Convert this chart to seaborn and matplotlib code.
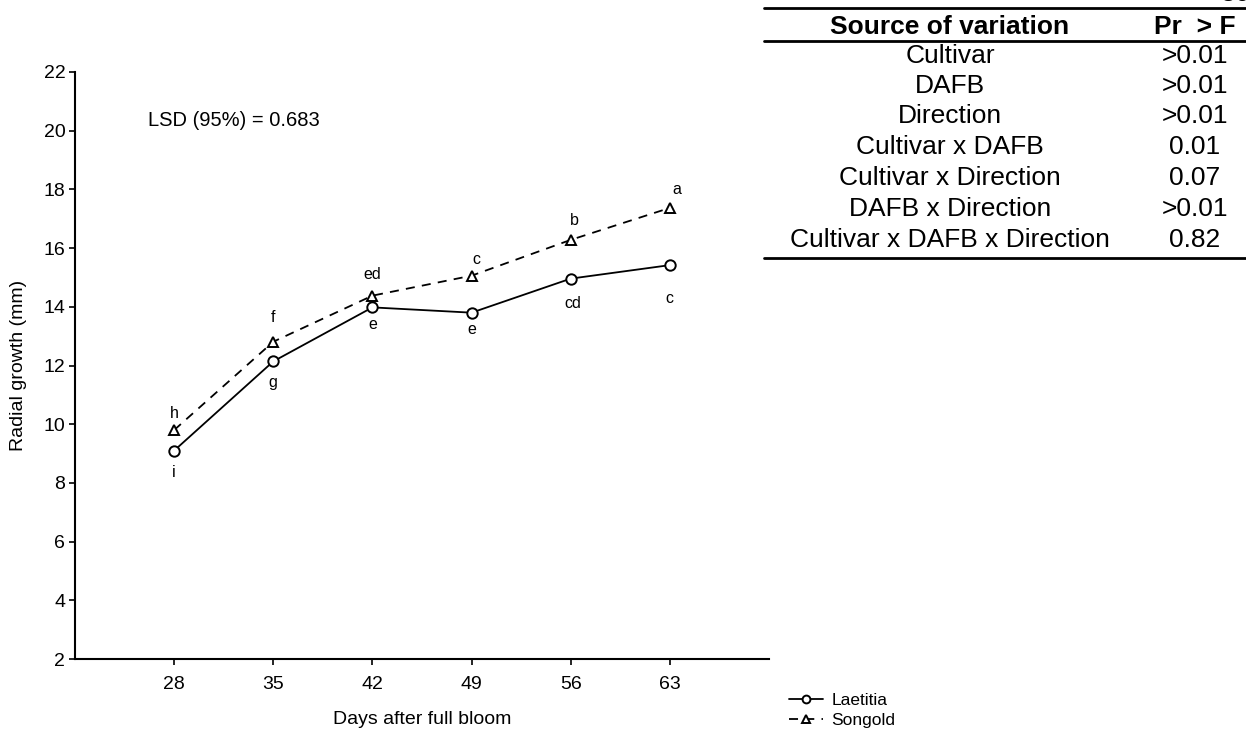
import matplotlib
matplotlib.use("Agg")
import matplotlib.pyplot as plt
import seaborn as sns
import pandas as pd
from matplotlib.lines import Line2D

# Radial fruit growth per cultivar, days after full bloom
days = [28, 35, 42, 49, 56, 63]
laetitia = [9.10, 12.14, 13.98, 13.80, 14.96, 15.42]
songold = [9.80, 12.81, 14.38, 15.06, 16.28, 17.37]
laetitia_letters = ["i", "g", "e", "e", "cd", "c"]
songold_letters = ["h", "f", "ed", "c", "b", "a"]

# ANOVA summary
sources = ["Cultivar", "DAFB", "Direction", "Cultivar x DAFB",
           "Cultivar x Direction", "DAFB x Direction",
           "Cultivar x DAFB x Direction"]
pr_f = [">0.01", ">0.01", ">0.01", "0.01", "0.07", ">0.01", "0.82"]

df = pd.DataFrame({
    "day": days * 2,
    "growth": laetitia + songold,
    "cultivar": ["Laetitia"] * len(days) + ["Songold"] * len(days),
})

sns.set_style("white")
plt.rcParams["font.family"] = ["Liberation Sans", "DejaVu Sans"]
plt.rcParams["text.color"] = "black"
plt.rcParams["axes.labelcolor"] = "black"

W, H = 1246, 742
fig = plt.figure(figsize=(W / 100, H / 100), dpi=100)
ax = fig.add_axes([75 / W, 1 - 659 / H, (769 - 75) / W, (659 - 72) / H])

sns.lineplot(
    data=df, x="day", y="growth", hue="cultivar", style="cultivar",
    palette={"Laetitia": "black", "Songold": "black"},
    markers={"Laetitia": "o", "Songold": "^"},
    dashes={"Laetitia": "", "Songold": (5, 4)},
    markersize=7.5, markerfacecolor="white", markeredgecolor="black",
    markeredgewidth=1.4, linewidth=1.3, ax=ax, legend=True,
)
handles, labels = ax.get_legend_handles_labels()
ax.get_legend().remove()

ax.set_xlim(21, 70)
ax.set_ylim(2, 22)
ax.set_xticks(days)
ax.set_yticks(range(2, 23, 2))
for side in ("top", "right"):
    ax.spines[side].set_visible(False)
for side in ("left", "bottom"):
    ax.spines[side].set_linewidth(1.5)
    ax.spines[side].set_color("black")
ax.tick_params(direction="out", length=4, width=1.2, colors="black",
               labelsize=14, bottom=True, left=True)
ax.tick_params(axis="x", pad=8)
ax.tick_params(axis="y", pad=3)
ax.set_xlabel("Days after full bloom", fontsize=14, labelpad=13)
ax.set_ylabel("Radial growth (mm)", fontsize=14, labelpad=12)

# Mean separation letters
above = [(0, 17), (0, 24), (0, 21), (5, 16), (4, 19), (7, 18)]
below = [(0, -22), (0, -21), (0, -17), (0, -17), (2, -25), (0, -33)]
for d, v, s, off in zip(days, songold, songold_letters, above):
    ax.annotate(s, (d, v), xytext=off, textcoords="offset pixels",
                ha="center", va="center", fontsize=11.5)
for d, v, s, off in zip(days, laetitia, laetitia_letters, below):
    ax.annotate(s, (d, v), xytext=off, textcoords="offset pixels",
                ha="center", va="center", fontsize=11.5)

fig.text(148 / W, 1 - 120 / H, "LSD (95%) = 0.683", fontsize=14.5,
         ha="left", va="center")

# Legend below the plot area
fig.legend(handles, labels, loc="upper left",
           bbox_to_anchor=(780 / W, 1 - 684 / H), frameon=False,
           fontsize=12.5, handlelength=2.0, handletextpad=0.45,
           labelspacing=0.3, borderpad=0, markerscale=0.75)

# ANOVA table
row_y = [27, 56, 86, 116, 147, 178, 209, 240]
fig.text(950 / W, 1 - row_y[0] / H, "Source of variation", fontsize=19,
         fontweight="bold", ha="center", va="center")
fig.text(1195 / W, 1 - row_y[0] / H, "Pr  > F", fontsize=19,
         fontweight="bold", ha="center", va="center")
for y, src, p in zip(row_y[1:], sources, pr_f):
    fig.text(950 / W, 1 - y / H, src, fontsize=19, ha="center", va="center")
    fig.text(1195 / W, 1 - y / H, p, fontsize=19, ha="center", va="center")
for y in (8, 41, 258):
    fig.add_artist(Line2D([764 / W, 1.0], [1 - y / H, 1 - y / H],
                          transform=fig.transFigure, color="black", lw=2.0))
# page number running off the top edge
fig.text(1236 / W, 1 - (-6) / H, "86", fontsize=19, ha="center", va="center")

fig.savefig("out.png", dpi=100, facecolor="white")
